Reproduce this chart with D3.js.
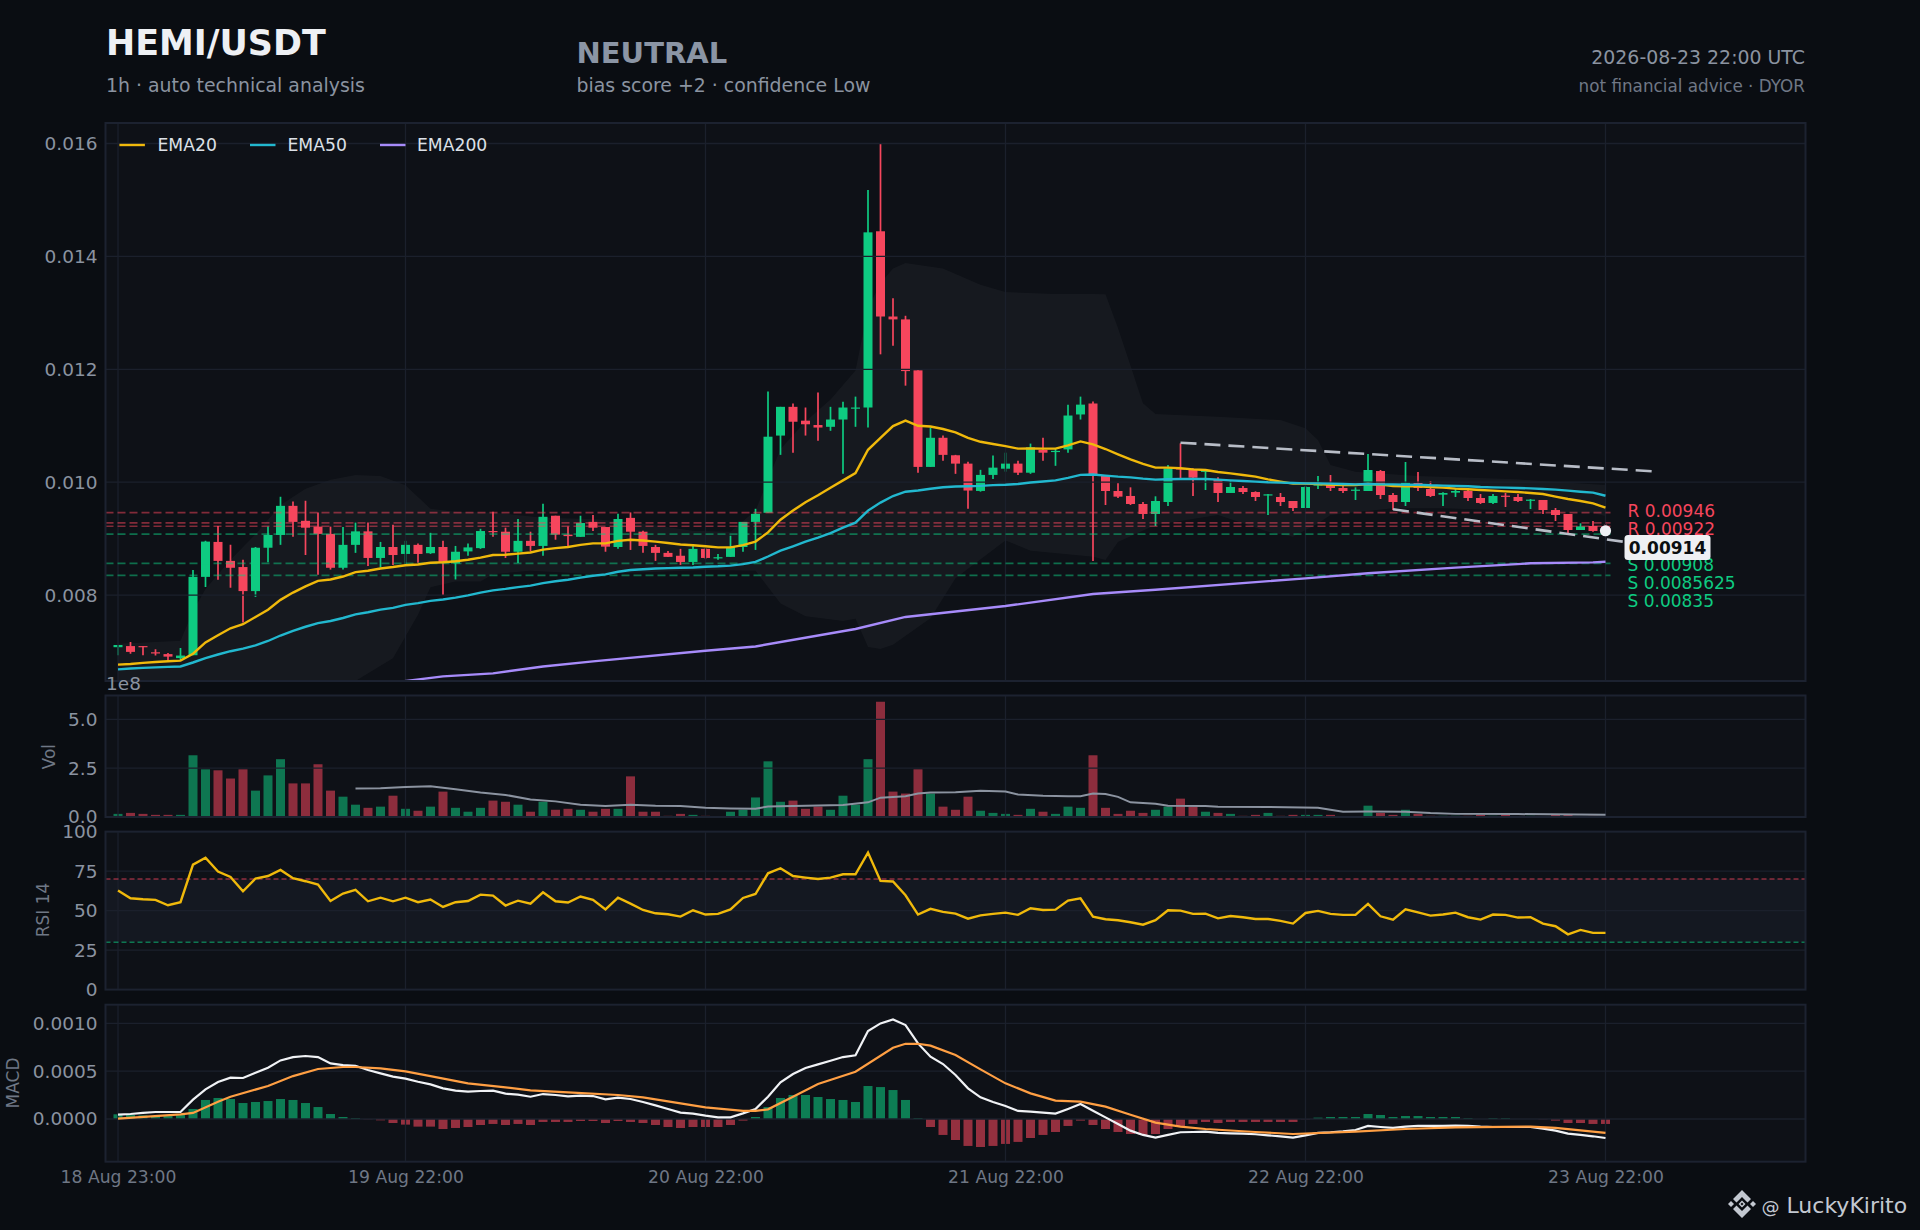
<!DOCTYPE html>
<html>
<head>
<meta charset="utf-8">
<title>HEMI/USDT</title>
<script src="https://cdn.jsdelivr.net/npm/d3@7/dist/d3.min.js"></script>
<style>
  html, body { margin: 0; padding: 0; background: #0a0d12; }
  svg { display: block; font-family: "DejaVu Sans", sans-serif; }
</style>
</head>
<body>
<svg id="chart" width="1920" height="1230"></svg>
<script>
// ---------------------------------------------------------------------------
// Data (hourly candles, 18 Aug 23:00 to 23 Aug 22:00)
// ---------------------------------------------------------------------------

const opens = [.007077,.007097,.007097,.006987,.006955,.006884,.006935,.008323,.008942,.008606,.008497,.008071,.008839,.009065,.009581,.009316,.009213,.009084,.008484,.00889,
.009129,.008658,.008852,.008729,.00889,.008742,.008852,.008561,.008774,.008832,.009135,.009123,.008768,.008961,.008871,.009406,.009071,.009032,.009297,.009206,
.008852,.009368,.009123,.008852,.008748,.008697,.008587,.008819,.008658,.008677,.008852,.009297,.009458,.010826,.011335,.01109,.011013,.010981,.01111,.01131,
.011323,.014445,.012935,.012884,.011981,.010271,.010787,.010477,.010329,.009845,.010129,.010239,.010329,.010168,.010574,.010535,.010581,.0112,.011394,.01011,
.009844,.009756,.009614,.009437,.009649,.010246,.010228,.010198,.010057,.009809,.009897,.009826,.009779,.009738,.009667,.009543,.009939,.009962,.009897,.009856,
.009844,.010198,.009773,.009649,.009986,.00988,.009779,.009815,.009844,.00972,.009632,.009761,.009738,.009679,.009685,.009507,.009437,.009153,.009224,.009215];
const closes = [.007116,.006994,.007092,.006974,.00691,.006929,.008323,.008948,.008606,.008484,.008071,.008839,.009065,.009581,.009297,.009194,.009084,.008484,.00889,.009129,
.008658,.008852,.00871,.00889,.008729,.008852,.008581,.008768,.008845,.009135,.009123,.008768,.008961,.008871,.009387,.009071,.009045,.009277,.009194,.008858,
.009348,.009123,.008871,.008748,.008677,.008587,.008819,.008658,.008671,.008852,.009297,.009439,.010806,.011335,.011071,.011026,.010968,.01111,.011323,.011323,
.014426,.012935,.012884,.011968,.010271,.010787,.010484,.010329,.009852,.010129,.010258,.010329,.010168,.010619,.010523,.010555,.011181,.011374,.01011,.009844,
.009744,.009614,.009437,.009667,.010246,.010228,.01008,.010204,.009809,.009915,.009826,.009738,.009785,.009649,.009543,.009915,.009968,.009897,.009844,.009868,
.010216,.009773,.009649,.009992,.009897,.009756,.009809,.009844,.00972,.009632,.009756,.009744,.009667,.009691,.009507,.009419,.009153,.009218,.009136,.00914];
const highs = [.007116,.007168,.007097,.007039,.006974,.007065,.008445,.008961,.009226,.00889,.008626,.008852,.009213,.009742,.009658,.009671,.009465,.009213,.009206,.009284,
.009284,.008942,.009245,.008961,.008916,.009103,.008961,.008871,.008916,.009174,.009477,.009194,.009348,.009123,.009619,.009406,.009213,.009406,.009419,.009206,
.009439,.009465,.009142,.00889,.008781,.008819,.008871,.008832,.008729,.009052,.009297,.009529,.011606,.011335,.011394,.011323,.011587,.011335,.011426,.011516,
.015174,.016006,.013258,.012948,.011981,.010968,.010826,.010484,.010361,.010219,.010471,.010523,.010381,.010684,.010787,.010594,.011374,.011516,.01143,.01011,
.00998,.009909,.009649,.00975,.010305,.010688,.010246,.010204,.010086,.010039,.009933,.009838,.009791,.009809,.009667,.009933,.01011,.010128,.009933,.009909,
.010499,.010216,.009809,.010358,.010181,.010021,.009821,.009891,.009897,.009791,.009791,.009809,.009791,.009702,.009685,.009543,.009437,.009272,.009313,.00926];
const lows = [.006935,.006961,.006935,.006929,.006845,.006845,.006935,.008142,.008271,.008129,.007516,.007968,.008581,.00889,.009032,.00871,.008361,.008452,.008452,.008748,
.008516,.00849,.008535,.008535,.008574,.008729,.008,.008277,.008697,.008819,.009032,.008658,.008568,.008774,.008697,.008981,.008871,.009032,.009135,.008768,
.008819,.0088,.008748,.008606,.008677,.008535,.008535,.008639,.008626,.008677,.008768,.0088,.009458,.010484,.010523,.010826,.010735,.01091,.010148,.010981,
.010968,.012265,.012419,.01171,.010168,.010271,.010381,.010148,.009529,.009832,.010058,.010187,.010129,.010148,.010381,.01029,.010523,.01111,.008605,.009596,
.00972,.009596,.009348,.009224,.009578,.010074,.009756,.009862,.009649,.009809,.009791,.009667,.009419,.009578,.00949,.009543,.00988,.009844,.009809,.009685,
.009844,.009702,.009507,.009578,.009844,.009738,.009578,.009738,.009667,.009614,.009614,.009561,.009649,.009525,.009437,.009313,.009094,.009153,.009123,.0091];

const ema20 = [.006768,.00678,.0068,.006815,.006827,.006839,.006961,.007161,.00729,.007413,.007484,.007613,.007742,.007916,.008045,.008155,.008252,.008277,.008329,.008406,
.008432,.008471,.008497,.008529,.008542,.008574,.008581,.0086,.008626,.008665,.00871,.008716,.008735,.008755,.008806,.008832,.008852,.00889,.008916,.008916,
.008961,.008981,.008968,.008948,.008923,.008897,.008884,.008865,.008845,.008845,.008884,.008948,.00911,.009335,.009497,.009645,.009768,.009903,.010032,.010161,
.010574,.010787,.010994,.01109,.011,.010987,.010942,.010884,.010787,.010716,.010677,.010639,.010594,.0106,.010594,.010594,.010652,.010723,.010671,.010588,
.010494,.010405,.010323,.010258,.010258,.010246,.010228,.010216,.010181,.010157,.010128,.010098,.010051,.01001,.009974,.009974,.009968,.009956,.00995,.00995,
.009968,.009956,.009933,.009927,.009927,.009915,.009903,.009886,.009874,.009862,.00985,.009838,.009826,.009809,.009791,.009744,.009702,.009667,.009626,.009548];
const ema50 = [.006684,.0067,.00671,.00672,.006728,.006735,.006806,.006884,.006948,.007006,.007052,.00711,.007187,.007284,.007368,.007439,.007503,.007542,.007594,.007658,
.007697,.007742,.007774,.007826,.007858,.007897,.007923,.007955,.007994,.008045,.008084,.00811,.008142,.008168,.008213,.008245,.008271,.00831,.008342,.008368,
.008413,.008445,.008458,.008471,.008477,.008484,.00849,.008503,.00851,.008523,.008548,.008587,.008684,.008787,.008865,.008948,.009019,.009097,.009194,.009284,
.009497,.009639,.009755,.009832,.009852,.009884,.00991,.009923,.009929,.009935,.009948,.009955,.009968,.009994,.010013,.010032,.010077,.010129,.010135,.010116,
.010098,.010086,.010063,.010045,.010051,.010057,.010057,.010057,.010045,.010033,.010021,.01001,.009998,.009992,.009986,.00998,.00998,.009974,.009968,.009962,
.009968,.009962,.009962,.009956,.009956,.009945,.009939,.009933,.009927,.009915,.009909,.009903,.009897,.009891,.00988,.009868,.00985,.009832,.009815,.00976];
const ema200Idx = [22,26,30,34,38,47,51,59,63,71,78,83,95,100,107,113,118,119];
const ema200Vals = [.00645,.006561,.006613,.006735,.006826,.007013,.00709,.0074,.007613,.007806,.008019,.008096,.008296,.008386,.008486,.008563,.00858,.008592];

// bollinger band outline, only where it bends
const bbUpperIdx = [0,5,6,7,9,11,13,15,17,19,21,23,25,27,30,34,38,42,46,49,51,52,53,55,57,59,60,61,62,63,66,69,71,75,78,79,80,82,83,88,93,95,96,97,99,104,112,119];
const bbUpperVals = [.00714,.00719,.00772,.00811,.008626,.009077,.009594,.009884,.010045,.010129,.01011,.009948,.009529,.009477,.009465,.009368,.009348,.00927,.00914,.00912,.009497,.010045,.01059,.011077,.011465,.01198,.013077,.013529,.013787,.013884,.013787,.013497,.013368,.013335,.013335,.01333,.01273,.0114,.01121,.01116,.0111,.010955,.010748,.010305,.010187,.01011,.01005,.00995];
const bbLowerIdx = [0,19,22,24,25,27,29,30,33,38,47,51,53,55,58,59,60,61,62,65,67,71,73,78,79,80,83,88,92,94,96,97,102,106,118,119];
const bbLowerVals = [.006,.00648,.00688,.00765,.00814,.00824,.00824,.00837,.00843,.00837,.008445,.00843,.00785,.007626,.00754,.00758,.00708,.007045,.00712,.00759,.0083,.008968,.008787,.00868,.00862,.00894,.00924,.00942,.00912,.009035,.00927,.00942,.009537,.009537,.009448,.0094];

const resistance = [0.00946, 0.00928, 0.00922];
const support = [0.00908, 0.0085625, 0.00835];
const levelLabels = ["R 0.00946", "R 0.00922", "S 0.00908", "S 0.0085625", "S 0.00835"];
const lastPrice = 0.00914;
const trendUpper = [[85, 0.0107], [123, 0.01019]];
const trendLower = [[102, 0.00952], [123, 0.008865]];

// volume, in units of 1e8
const volume = [.16,.21,.16,.11,.11,.11,3.16,2.44,2.39,1.97,2.44,1.35,2.13,2.96,1.72,1.72,2.7,1.35,1.04,.63,
.47,.53,1.09,.42,.32,.53,1.3,.47,.27,.47,.84,.78,.63,.27,.78,.37,.42,.37,.27,.42,
.42,2.08,.27,.27,.06,.16,.11,.06,.03,.27,.37,1,2.85,.78,.84,.42,.53,.37,1.09,.63,
2.96,5.9,1.3,1.2,2.44,1.2,.53,.37,1.04,.32,.21,.16,.11,.42,.27,.16,.53,.47,3.16,.47,
.16,.32,.21,.37,.53,.94,.53,.27,.21,.16,.06,.11,.21,.06,.11,.11,.11,.11,.03,.05,
.58,.21,.11,.37,.16,.06,.06,.06,.06,.11,.06,.11,.03,.06,.03,.11,.11,.03,.06,.03];
const volMaIdx = [19,21,23,25,27,29,31,33,35,37,39,41,43,45,47,49,51,52,55,58,60,61,63,64,65,67,69,71,72,74,76,77,78,79,80,81,83,84,87,88,92,96,98,100,103,105,107,112,119];
const volMaVals = [1.46,1.47,1.54,1.58,1.42,1.25,1.13,.9,.8,.63,.56,.63,.58,.56,.47,.44,.42,.54,.58,.61,.75,.99,1.06,1.2,1.25,1.27,1.34,1.3,1.15,1.09,1.06,1.06,1.2,1.18,1.03,.75,.68,.58,.56,.53,.51,.47,.27,.28,.27,.2,.16,.15,.11];

const rsi = [62.7,57.8,57.2,56.8,53.4,55.3,79.1,83.5,74.7,71.3,62.2,70.3,71.9,75.7,70.5,68.6,66.5,56.1,60.8,63.1,
55.9,58.2,55.9,58.2,55.3,57,52.3,55.3,56.1,60.1,59.5,53.2,56.3,54.4,61.6,55.9,55.1,58.9,56.8,50.8,
58.2,54.4,50.4,48.3,47.7,46.2,50.2,47.5,47.9,50.8,58,60.5,73.6,76.8,71.9,70.9,70,70.9,73,73,
86.7,68.8,68.4,59.7,47.5,51.1,49.2,48.1,44.9,47,47.9,48.7,47.3,51.5,50.4,50.6,56.3,57.8,46.2,44.5,
43.9,42.6,41.1,43.9,50.2,50,47.9,48.1,45.1,46.6,45.8,44.7,44.7,43.5,41.8,48.5,49.8,47.9,47.3,47.3,
54.2,46.4,44.3,50.8,48.9,46.8,47.5,48.7,45.8,44.3,47.5,47.3,45.6,45.8,41.8,40.1,35,37.8,35.9,35.9];
const rsiLevels = [70, 30];

const macdLine = [.000045,.000052,.000063,.000073,.000073,.000073,.000202,.00031,.000387,.000432,.000429,.000484,.000537,.000613,.000648,.000659,.000648,.000582,.000564,.000557,
.000512,.000477,.000443,.000422,.00039,.000362,.000321,.000296,.000286,.000293,.000296,.000265,.000254,.000233,.000261,.000251,.000237,.000244,.00024,.000206,
.000223,.000209,.000178,.000143,.000105,.000066,.000056,.000035,.000017,.000017,.000059,.000105,.000233,.000383,.00047,.000533,.000571,.00061,.000648,.000666,
.00092,.001,.001042,.000983,.000791,.000652,.000575,.00046,.000321,.000226,.000178,.000136,.000084,.000077,.000066,.000056,.000105,.000157,.000087,.000017,
-.000052,-.000122,-.000167,-.000195,-.000167,-.000139,-.000136,-.000132,-.000146,-.00015,-.000153,-.00016,-.000171,-.000181,-.000195,-.000171,-.000146,-.000139,-.000129,-.000115,
-.000073,-.000084,-.000094,-.00008,-.000073,-.000073,-.000073,-.00007,-.000073,-.00008,-.000084,-.000084,-.000084,-.000084,-.000101,-.000122,-.000153,-.000167,-.000181,-.000199];
const macdSignalIdx = [0,5,6,8,9,12,14,16,18,19,21,23,25,28,31,33,36,40,42,44,47,50,51,52,54,56,59,62,63,64,65,67,69,71,73,75,77,79,81,83,85,87,91,94,99,103,107,113,115,119];
const macdSignalVals = [.000003,.000049,.000063,.000181,.000233,.000345,.000449,.000523,.000544,.000544,.00053,.000498,.000449,.000373,.000331,.0003,.000279,.000251,.000226,.000185,.000122,.000084,.000084,.000101,.000233,.000366,.000495,.000746,.000787,.000787,.000767,.000669,.000519,.000373,.000268,.000192,.000181,.000129,.000045,-.000038,-.00008,-.000105,-.000136,-.000157,-.000132,-.000105,-.000087,-.00008,-.000094,-.000146];
const macdHist = [.000049,.000042,.000038,.000031,.000031,.000049,.000105,.000199,.00022,.000209,.000167,.000178,.000188,.000209,.000199,.000167,.000125,.000052,.000021,.00001,
-.000003,-.000014,-.000042,-.000059,-.00008,-.00008,-.000105,-.000094,-.000084,-.000063,-.000052,-.000063,-.000052,-.000063,-.000031,-.000031,-.000031,-.000021,-.000021,-.000042,
-.000021,-.000031,-.000042,-.000063,-.000084,-.000094,-.000084,-.000084,-.000084,-.000063,-.000017,.000021,.000125,.00022,.000251,.000251,.00023,.000209,.000199,.000178,
.000345,.000334,.000303,.000199,.00001,-.000084,-.000167,-.00022,-.000282,-.000293,-.000282,-.000261,-.00024,-.000199,-.000167,-.000136,-.000073,-.000017,-.000063,-.000105,
-.000136,-.000157,-.000167,-.000157,-.000105,-.000073,-.000052,-.000031,-.000042,-.000031,-.000031,-.000031,-.000031,-.000031,-.000031,-.000003,.000014,.000021,.000021,.000021,
.000052,.000042,.000021,.000031,.000031,.000021,.000021,.000021,.00001,0,.00001,.00001,0,0,-.000003,-.000017,-.000042,-.000042,-.000052,-.000052];

const xTickIdx = [0, 23, 47, 71, 95, 119];
const xTickLabels = ["18 Aug 23:00", "19 Aug 22:00", "20 Aug 22:00", "21 Aug 22:00", "22 Aug 22:00", "23 Aug 22:00"];
const priceTicks = [0.008, 0.01, 0.012, 0.014, 0.016];
const volTicks = [0, 2.5, 5];
const rsiTicks = [0, 25, 50, 75, 100];
const macdTicks = [0, 0.0005, 0.001];

// ---------------------------------------------------------------------------
// Colors, panels
// ---------------------------------------------------------------------------

const UP = "#0ecb81";
const DOWN = "#f6465d";
const EMA_COLORS = ["#f0b90b", "#22b8cf", "#a78bfa"];
const EMA_NAMES = ["EMA20", "EMA50", "EMA200"];
const TEXT_DIM = "#8b93a0";
const GRID = "#1b202c";

const LEFT = 105.5;
const RIGHT = 1805.5;
const panels = {
  price: { top: 123, bottom: 681 },
  vol: { top: 695.5, bottom: 817 },
  rsi: { top: 831.6, bottom: 989.6 },
  macd: { top: 1004.7, bottom: 1161.7 },
};

const x = d3.scaleLinear().domain([-1, 135]).range([LEFT, RIGHT]);
const yPrice = d3.scaleLinear().domain([0.0064783, 0.016363]).range([panels.price.bottom, panels.price.top]);
const yVol = d3.scaleLinear().domain([0, 6.22]).range([panels.vol.bottom, panels.vol.top]);
const yRsi = d3.scaleLinear().domain([0, 100]).range([panels.rsi.bottom, panels.rsi.top]);
const yMacd = d3.scaleLinear().domain([-0.000447, 0.001196]).range([panels.macd.bottom, panels.macd.top]);

const svg = d3.select("#chart");
svg.append("rect").attr("width", 1920).attr("height", 1230).attr("fill", "#0a0d12");

const defs = svg.append("defs");
const isUp = (i) => closes[i] >= opens[i];
const BAR_W = x(0.72) - x(0);

function lineOf(yScale) {
  return d3.line().x((d) => x(d[0])).y((d) => yScale(d[1]));
}

function zip(idx, vals) {
  return idx.map((k, j) => [k, vals[j]]);
}

// panel frame: returns { back, marks, front } groups clipped to the panel
function makePanel(name, yScale, ticks, fmt) {
  const p = panels[name];
  defs.append("clipPath").attr("id", "clip-" + name)
    .append("rect").attr("x", LEFT).attr("y", p.top).attr("width", RIGHT - LEFT).attr("height", p.bottom - p.top);

  svg.append("rect").attr("x", LEFT).attr("y", p.top).attr("width", RIGHT - LEFT).attr("height", p.bottom - p.top)
    .attr("fill", "#0e1117");

  const back = svg.append("g").attr("clip-path", `url(#clip-${name})`);
  const marks = svg.append("g").attr("clip-path", `url(#clip-${name})`);

  // grid sits over the marks, thin enough to see through
  const grid = svg.append("g").attr("clip-path", `url(#clip-${name})`);
  grid.selectAll("line.h").data(ticks).join("line").attr("class", "h")
    .attr("x1", LEFT).attr("x2", RIGHT)
    .attr("y1", (d) => yScale(d)).attr("y2", (d) => yScale(d))
    .attr("stroke", GRID).attr("stroke-width", 1.3);
  grid.selectAll("line.v").data(xTickIdx).join("line").attr("class", "v")
    .attr("x1", (d) => x(d)).attr("x2", (d) => x(d))
    .attr("y1", p.top).attr("y2", p.bottom)
    .attr("stroke", GRID).attr("stroke-width", 1.3);

  const front = svg.append("g").attr("clip-path", `url(#clip-${name})`);

  svg.append("rect").attr("x", LEFT).attr("y", p.top).attr("width", RIGHT - LEFT).attr("height", p.bottom - p.top)
    .attr("fill", "none").attr("stroke", "#1c2230").attr("stroke-width", 2);

  const axis = svg.append("g").attr("transform", `translate(${LEFT},0)`)
    .call(d3.axisLeft(yScale).tickValues(ticks).tickFormat(fmt).tickSize(0).tickPadding(8));
  axis.select(".domain").remove();
  axis.selectAll("text").attr("fill", TEXT_DIM).attr("font-size", 18.5).attr("font-family", "DejaVu Sans");

  return { back, marks, front };
}

function ylabel(text, px, py) {
  svg.append("text").attr("transform", `translate(${px},${py}) rotate(-90)`)
    .attr("text-anchor", "middle").attr("dominant-baseline", "middle")
    .attr("fill", "#6f7785").attr("font-size", 17).text(text);
}

// ---------------------------------------------------------------------------
// Price panel
// ---------------------------------------------------------------------------

const pricePanel = makePanel("price", yPrice, priceTicks, d3.format(".3f"));

const bandPts = zip(bbUpperIdx, bbUpperVals).concat(zip(bbLowerIdx, bbLowerVals).reverse());
pricePanel.back.append("path").attr("d", lineOf(yPrice)(bandPts) + "Z").attr("fill", "#ffffff").attr("opacity", 0.035);

const candles = pricePanel.marks.selectAll("g.candle").data(d3.range(opens.length)).join("g").attr("class", "candle");
candles.append("line")
  .attr("x1", (i) => x(i)).attr("x2", (i) => x(i))
  .attr("y1", (i) => yPrice(highs[i])).attr("y2", (i) => yPrice(lows[i]))
  .attr("stroke", (i) => (isUp(i) ? UP : DOWN)).attr("stroke-width", 1.7);
candles.append("rect")
  .attr("x", (i) => x(i) - BAR_W / 2).attr("width", BAR_W)
  .attr("y", (i) => yPrice(Math.max(opens[i], closes[i])))
  .attr("height", (i) => Math.max(1.2, Math.abs(yPrice(opens[i]) - yPrice(closes[i]))))
  .attr("fill", (i) => (isUp(i) ? UP : DOWN));

const LEVEL_END = x(119.4);
function levelLines(vals, color) {
  pricePanel.front.selectAll(null).data(vals).join("line")
    .attr("x1", LEFT).attr("x2", LEVEL_END)
    .attr("y1", (d) => yPrice(d)).attr("y2", (d) => yPrice(d))
    .attr("stroke", color).attr("stroke-width", 1.7).attr("stroke-dasharray", "8,4").attr("opacity", 0.5);
}
levelLines(resistance, DOWN);
levelLines(support, UP);

[ema20, ema50].forEach((series, k) => {
  pricePanel.front.append("path").attr("d", lineOf(yPrice)(series.map((v, i) => [i, v])))
    .attr("fill", "none").attr("stroke", EMA_COLORS[k]).attr("stroke-width", 2.4);
});
pricePanel.front.append("path").attr("d", lineOf(yPrice)(zip(ema200Idx, ema200Vals)))
  .attr("fill", "none").attr("stroke", EMA_COLORS[2]).attr("stroke-width", 2.4);

[trendUpper, trendLower].forEach((seg) => {
  pricePanel.front.append("path").attr("d", lineOf(yPrice)(seg))
    .attr("fill", "none").attr("stroke", "#b8bdc7").attr("stroke-width", 2.6).attr("stroke-dasharray", "16,8");
});

pricePanel.front.append("circle").attr("cx", x(119)).attr("cy", yPrice(lastPrice)).attr("r", 5.6).attr("fill", "#eef0f4");

// level labels
const LABEL_X = 1627.5;
const labelYs = [510.7, 529.2, 565.2, 583, 601];
svg.selectAll("text.level").data(levelLabels).join("text").attr("class", "level")
  .attr("x", LABEL_X).attr("y", (d, i) => labelYs[i]).attr("dy", "0.36em")
  .attr("font-size", 17).attr("fill", (d) => (d[0] === "R" ? DOWN : UP)).text((d) => d);

svg.append("rect").attr("x", 1624.5).attr("y", 535).attr("width", 86).attr("height", 25).attr("rx", 3.5)
  .attr("fill", "#eef0f4");
svg.append("text").attr("x", 1667.5).attr("y", 547.5).attr("dy", "0.36em").attr("text-anchor", "middle")
  .attr("font-size", 17).attr("font-weight", "bold").attr("fill", "#0b0e11").text(d3.format(".5f")(lastPrice));

// legend
const legendLineX = [119.4, 250, 380];
const legendTextX = [157.5, 287.5, 417];
EMA_NAMES.forEach((name, k) => {
  svg.append("line").attr("x1", legendLineX[k]).attr("x2", legendLineX[k] + 25.5).attr("y1", 145).attr("y2", 145)
    .attr("stroke", EMA_COLORS[k]).attr("stroke-width", 2.4);
  svg.append("text").attr("x", legendTextX[k]).attr("y", 145).attr("dy", "0.36em")
    .attr("font-size", 17.2).attr("fill", "#dde1e7").text(name);
});

// ---------------------------------------------------------------------------
// Volume panel
// ---------------------------------------------------------------------------

const volPanel = makePanel("vol", yVol, volTicks, d3.format(".1f"));
volPanel.marks.selectAll("rect").data(volume).join("rect")
  .attr("x", (d, i) => x(i) - BAR_W / 2).attr("width", BAR_W)
  .attr("y", (d) => yVol(d)).attr("height", (d) => yVol(0) - yVol(d))
  .attr("fill", (d, i) => (isUp(i) ? UP : DOWN)).attr("opacity", 0.55);
volPanel.front.append("path").attr("d", lineOf(yVol)(zip(volMaIdx, volMaVals)))
  .attr("fill", "none").attr("stroke", TEXT_DIM).attr("stroke-width", 2);
svg.append("text").attr("x", 106).attr("y", 690).attr("font-size", 18.5).attr("fill", TEXT_DIM).text("1e8");
ylabel("Vol", 50, 756.7);

// ---------------------------------------------------------------------------
// RSI panel
// ---------------------------------------------------------------------------

const rsiPanel = makePanel("rsi", yRsi, rsiTicks, d3.format("d"));
rsiPanel.back.append("rect").attr("x", LEFT).attr("width", RIGHT - LEFT)
  .attr("y", yRsi(rsiLevels[0])).attr("height", yRsi(rsiLevels[1]) - yRsi(rsiLevels[0]))
  .attr("fill", "#141821");
rsiPanel.front.selectAll(null).data(rsiLevels).join("line")
  .attr("x1", LEFT).attr("x2", RIGHT)
  .attr("y1", (d) => yRsi(d)).attr("y2", (d) => yRsi(d))
  .attr("stroke", (d) => (d === 70 ? DOWN : UP)).attr("stroke-width", 1.4)
  .attr("stroke-dasharray", "5,3").attr("opacity", 0.55);
rsiPanel.front.append("path").attr("d", lineOf(yRsi)(rsi.map((v, i) => [i, v])))
  .attr("fill", "none").attr("stroke", EMA_COLORS[0]).attr("stroke-width", 2.4);
ylabel("RSI 14", 44, 910);

// ---------------------------------------------------------------------------
// MACD panel
// ---------------------------------------------------------------------------

const macdPanel = makePanel("macd", yMacd, macdTicks, d3.format(".4f"));
macdPanel.marks.selectAll("rect").data(macdHist).join("rect")
  .attr("x", (d, i) => x(i) - BAR_W / 2).attr("width", BAR_W)
  .attr("y", (d) => yMacd(Math.max(d, 0))).attr("height", (d) => Math.abs(yMacd(d) - yMacd(0)))
  .attr("fill", (d) => (d >= 0 ? UP : DOWN)).attr("opacity", 0.58);
macdPanel.front.append("path").attr("d", lineOf(yMacd)(macdLine.map((v, i) => [i, v])))
  .attr("fill", "none").attr("stroke", "#f0f2f5").attr("stroke-width", 2.2);
macdPanel.front.append("path").attr("d", lineOf(yMacd)(zip(macdSignalIdx, macdSignalVals)))
  .attr("fill", "none").attr("stroke", "#ff9f43").attr("stroke-width", 2.2);
ylabel("MACD", 14, 1083);

const xAxis = svg.append("g").attr("transform", `translate(0,${panels.macd.bottom})`)
  .call(d3.axisBottom(x).tickValues(xTickIdx).tickFormat((d, i) => xTickLabels[i]).tickSize(0).tickPadding(9));
xAxis.select(".domain").remove();
xAxis.selectAll("text").attr("fill", "#6f7785").attr("font-size", 17.2).attr("font-family", "DejaVu Sans");

// ---------------------------------------------------------------------------
// Header
// ---------------------------------------------------------------------------

function headerText(str, px, py, size, color, opts) {
  const o = opts || {};
  svg.append("text").attr("x", px).attr("y", py).attr("font-size", size).attr("fill", color)
    .attr("font-weight", o.bold ? "bold" : null).attr("text-anchor", o.anchor || "start").text(str);
}
headerText("HEMI/USDT", 106, 55, 34.9, "#eef0f4", { bold: true });
headerText("1h · auto technical analysis", 106, 92, 18.9, TEXT_DIM);
headerText("NEUTRAL", 576.5, 63, 29, "#8b95a5", { bold: true });
headerText("bias score +2 · confidence Low", 576.5, 92, 18.9, TEXT_DIM);
headerText("2026-08-23 22:00 UTC", 1805, 64, 18.9, TEXT_DIM, { anchor: "end" });
headerText("not financial advice · DYOR", 1805, 92, 16.8, "#6f7785", { anchor: "end" });

// ---------------------------------------------------------------------------
// Watermark
// ---------------------------------------------------------------------------

const mark = svg.append("g").attr("transform", "translate(1742,1204)").attr("fill", "#c3c8d1");
mark.append("path").attr("d", "M-9,-5 L0,-14 L9,-5 L5.5,-1.5 L0,-7 L-5.5,-1.5 Z");
mark.append("path").attr("d", "M-9,5 L0,14 L9,5 L5.5,1.5 L0,7 L-5.5,1.5 Z");
mark.append("path").attr("d", "M-14,0 L-11,-3 L-8,0 L-11,3 Z");
mark.append("path").attr("d", "M14,0 L11,-3 L8,0 L11,3 Z");
mark.append("path").attr("fill-rule", "evenodd").attr("d", "M0,-3.5 L3.5,0 L0,3.5 L-3.5,0 Z M0,-1.5 L-1.5,0 L0,1.5 L1.5,0 Z");
const wm = svg.append("text").attr("x", 1761.5).attr("y", 1212.5).attr("fill", "#c3c8d1");
wm.append("tspan").attr("font-size", 18).text("@");
wm.append("tspan").attr("font-size", 22).attr("xml:space", "preserve").attr("dx", 7).text("LuckyKirito");
</script>
</body>
</html>
